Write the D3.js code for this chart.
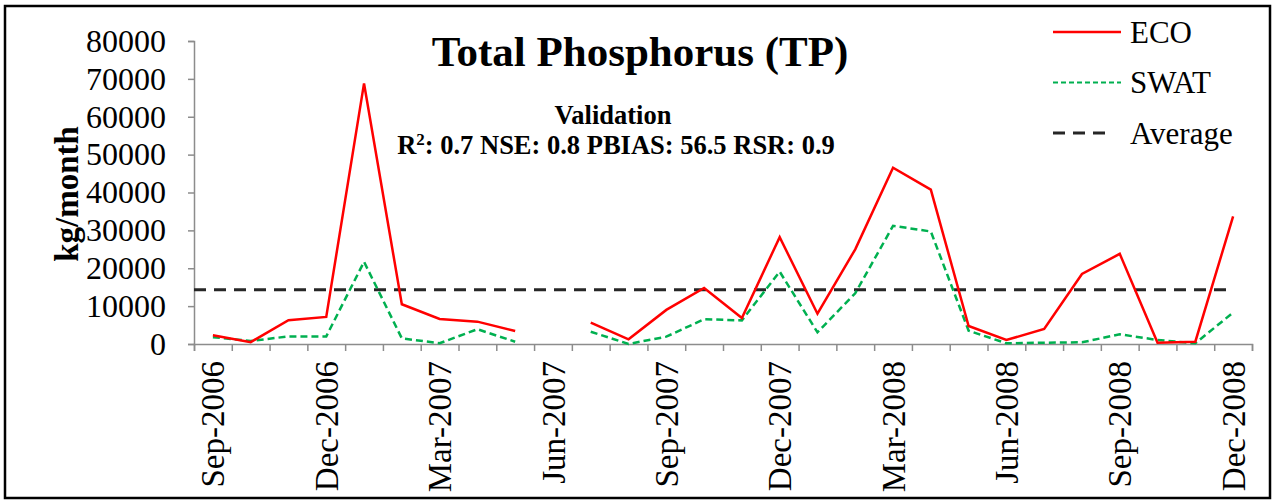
<!DOCTYPE html>
<html>
<head>
<meta charset="utf-8">
<script src="https://cdn.jsdelivr.net/npm/d3@7"></script>
<style>
  body { margin: 0; background: #fff; }
  svg text { font-family: "Liberation Serif", "Times New Roman", serif; fill: #000; }
</style>
</head>
<body>
<svg id="chart" width="1275" height="504"></svg>
<script>
// months on the x axis, Sep-2006 .. Dec-2008
var months = ['Sep-2006','Oct-2006','Nov-2006','Dec-2006','Jan-2007','Feb-2007','Mar-2007','Apr-2007',
    'May-2007','Jun-2007','Jul-2007','Aug-2007','Sep-2007','Oct-2007','Nov-2007','Dec-2007',
    'Jan-2008','Feb-2008','Mar-2008','Apr-2008','May-2008','Jun-2008','Jul-2008','Aug-2008',
    'Sep-2008','Oct-2008','Nov-2008','Dec-2008'];

// kg/month, null = no data
var ecoValues = [2300, 500, 6270, 7150, 68800, 10500, 6600, 5900, 3440, null, 5640, 1240, 9000, 14800,
    6880, 28200, 8000, 25000, 46560, 40740, 4760, 1060, 3970, 18500, 23800, 350, 600, 33700];
var swatValues = [1800, 800, 2000, 2000, 21700, 1500, 200, 3900, 600, null, 3250, 0, 1940, 6530,
    6240, 19100, 3080, 13400, 31200, 29700, 3520, 180, 350, 440, 2560, 1060, 180, 8300];
var averageValue = 14300;

var yTicks = [0, 10000, 20000, 30000, 40000, 50000, 60000, 70000, 80000];
var xLabels = ['Sep-2006','Dec-2006','Mar-2007','Jun-2007','Sep-2007','Dec-2007','Mar-2008','Jun-2008','Sep-2008','Dec-2008'];

var svg = d3.select('#chart');

// outer frame
svg.append('rect')
    .attr('x', 5).attr('y', 6)
    .attr('width', 1265).attr('height', 492)
    .attr('fill', 'none')
    .attr('stroke', '#000')
    .attr('stroke-width', 2.5);

var plot = {l: 194, r: 1252, t: 41, b: 344};

var xScale = d3.scaleBand()
    .domain(months)
    .range([plot.l, plot.r])
    .padding(0);
var xEdge = d3.scaleLinear()
    .domain([0, months.length])
    .range([plot.l, plot.r]);
var yScale = d3.scaleLinear()
    .domain([0, 80000])
    .range([plot.b, plot.t]);

function cx(d, i) { return xScale(months[i]) + xScale.bandwidth() / 2; }

// y axis
var yAxisG = svg.append('g')
    .attr('transform', 'translate(' + [plot.l, 0] + ')')
    .call(d3.axisLeft(yScale).tickValues(yTicks).tickSize(6).tickPadding(22).tickFormat(d3.format('d')));
yAxisG.select('.domain').attr('stroke', '#8c8c8c').attr('stroke-width', 1.5);
yAxisG.selectAll('.tick line').attr('stroke', '#8c8c8c').attr('stroke-width', 1.5);
yAxisG.selectAll('.tick text')
    .style('font-family', '"Liberation Serif", serif')
    .style('font-size', '32px')
    .attr('fill', '#000');

// x axis: boundary ticks
var xAxisG = svg.append('g')
    .attr('transform', 'translate(' + [0, plot.b] + ')')
    .call(d3.axisBottom(xEdge).tickValues(d3.range(months.length + 1)).tickSize(7).tickFormat(''));
xAxisG.select('.domain').attr('stroke', '#8c8c8c').attr('stroke-width', 1.5);
xAxisG.selectAll('.tick line').attr('stroke', '#8c8c8c').attr('stroke-width', 1.5);

// x labels at category centres
var xLabelG = svg.append('g')
    .attr('transform', 'translate(' + [0, plot.b] + ')')
    .call(d3.axisBottom(xScale).tickValues(xLabels).tickSize(0));
xLabelG.select('.domain').remove();
xLabelG.selectAll('.tick text')
    .style('font-family', '"Liberation Serif", serif')
    .style('font-size', '33px')
    .attr('fill', '#000')
    .attr('text-anchor', 'end')
    .attr('transform', 'rotate(-90)')
    .attr('x', -17)
    .attr('y', 0)
    .attr('dy', '0.35em');

// y axis title
svg.append('text')
    .attr('transform', 'translate(66,194) rotate(-90)')
    .attr('text-anchor', 'middle')
    .attr('dy', '0.35em')
    .style('font-size', '33px')
    .style('font-weight', 'bold')
    .text('kg/month');

// average line
svg.append('line')
    .attr('x1', plot.l).attr('x2', cx(null, months.length - 1))
    .attr('y1', yScale(averageValue)).attr('y2', yScale(averageValue))
    .attr('stroke', '#262626')
    .attr('stroke-width', 3)
    .attr('stroke-dasharray', '12,8');

var line = d3.line()
    .defined(function(d) { return d != null; })
    .x(cx)
    .y(function(d) { return yScale(d); });

svg.append('path')
    .datum(swatValues)
    .attr('d', line)
    .attr('fill', 'none')
    .attr('stroke', '#00b050')
    .attr('stroke-width', 2.5)
    .attr('stroke-dasharray', '7,4');

svg.append('path')
    .datum(ecoValues)
    .attr('d', line)
    .attr('fill', 'none')
    .attr('stroke', '#ff0000')
    .attr('stroke-width', 2.5);

// title and stats
svg.append('text')
    .attr('x', 640).attr('y', 66)
    .attr('text-anchor', 'middle')
    .style('font-size', '43px')
    .style('font-weight', 'bold')
    .text('Total Phosphorus (TP)');

svg.append('text')
    .attr('x', 613).attr('y', 124)
    .attr('text-anchor', 'middle')
    .style('font-size', '26.5px')
    .style('font-weight', 'bold')
    .text('Validation');

var stats = svg.append('text')
    .attr('x', 616).attr('y', 154)
    .attr('text-anchor', 'middle')
    .style('font-size', '26.5px')
    .style('font-weight', 'bold');
stats.append('tspan').text('R');
stats.append('tspan').attr('font-size', '17px').attr('dy', -9).text('2');
stats.append('tspan').attr('dy', 9).text(': 0.7 NSE: 0.8 PBIAS: 56.5 RSR: 0.9');

// legend
var legendItems = [
    {name: 'ECO', color: '#ff0000', dash: null, width: 2.5, len: 68},
    {name: 'SWAT', color: '#00b050', dash: '5,3', width: 2, len: 68},
    {name: 'Average', color: '#262626', dash: '12,8', width: 3, len: 58}
];
var legend = svg.append('g').attr('transform', 'translate(1053,32)');
var legendRow = legend.selectAll('g').data(legendItems).enter()
    .append('g')
    .attr('transform', function(d, i) { return 'translate(0,' + (i * 50.5) + ')'; });
legendRow.append('line')
    .attr('x1', 0).attr('x2', function(d) { return d.len; })
    .attr('stroke', function(d) { return d.color; })
    .attr('stroke-width', function(d) { return d.width; })
    .attr('stroke-dasharray', function(d) { return d.dash; });
legendRow.append('text')
    .attr('x', 77)
    .attr('dy', '0.35em')
    .style('font-size', '31px')
    .text(function(d) { return d.name; });
</script>
</body>
</html>
